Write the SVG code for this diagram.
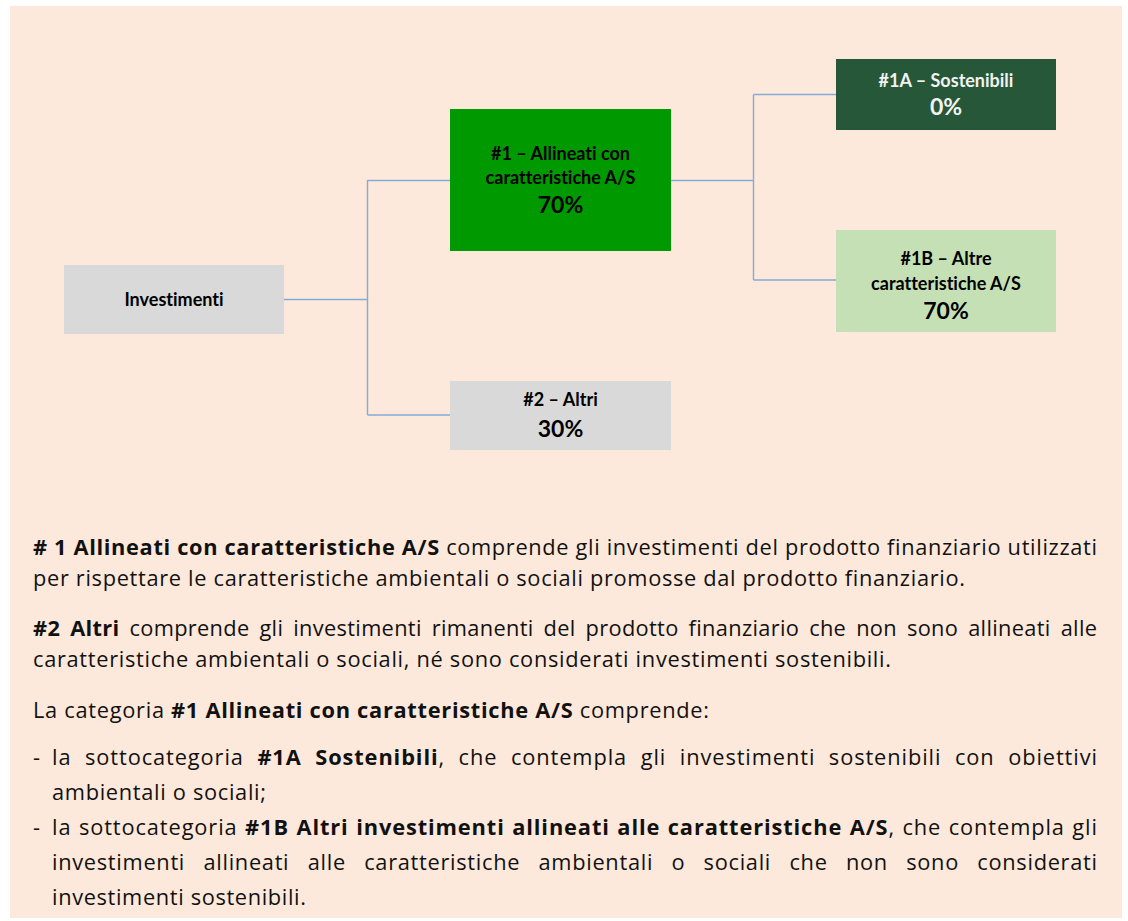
<svg xmlns="http://www.w3.org/2000/svg" width="1128" height="921" viewBox="0 0 1128 921">
<style>
text{font-variant-ligatures:none;font-feature-settings:"liga" 0,"clig" 0}
.bx{font-family:Lato,"Liberation Sans",sans-serif;font-weight:bold;font-size:18px;fill:#000;text-anchor:middle}
.pc{font-family:Lato,"Liberation Sans",sans-serif;font-weight:bold;font-size:23px;fill:#000;text-anchor:middle}
.w{fill:#F2F2F2}
.tx{font-family:"Open Sans","Liberation Sans",sans-serif;font-size:21.8px;fill:#111}
.b{font-weight:bold}
.cn{fill:none;stroke:#84AAD8;stroke-width:1.4}
</style>
<rect x="0" y="0" width="1128" height="921" fill="#FFFFFF"/>
<rect x="10" y="6" width="1112" height="912" fill="#FDE9DB"/>
<g id="connectors">
<path class="cn" d="M284 299.5H367.5M367.5 180V415M367.5 180.5H450M367.5 415H450"/>
<path class="cn" d="M671 180.5H753.5M753.5 94.5V280M753.5 94.5H836M753.5 280H836"/>
</g>
<g id="investimenti">
<rect x="64" y="265" width="220" height="69" fill="#D9D9D9"/>
<text class="bx" x="174" y="306">Investimenti</text>
</g>
<g id="n1">
<rect x="450" y="109" width="221" height="142" fill="#009900"/>
<text class="bx" x="560.5" y="160">#1 – Allineati con</text>
<text class="bx" x="560.5" y="184">caratteristiche A/S</text>
<text class="pc" x="560.5" y="213">70%</text>
</g>
<g id="n2">
<rect x="450" y="381" width="221" height="69" fill="#D9D9D9"/>
<text class="bx" x="560.5" y="406">#2 – Altri</text>
<text class="pc" x="560.5" y="437">30%</text>
</g>
<g id="n1a">
<rect x="836" y="59" width="220" height="71" fill="#265739"/>
<text class="bx w" x="946" y="87">#1A – Sostenibili</text>
<text class="pc w" x="946" y="115">0%</text>
</g>
<g id="n1b">
<rect x="836" y="230" width="220" height="102" fill="#C5E0B4"/>
<text class="bx" x="946" y="265">#1B – Altre</text>
<text class="bx" x="946" y="290">caratteristiche A/S</text>
<text class="pc" x="946" y="319">70%</text>
</g>
<g id="legend">
<text class="tx" x="33" y="555" textLength="1064" lengthAdjust="spacing"><tspan class="b"># 1 Allineati con caratteristiche A/S</tspan> comprende gli investimenti del prodotto finanziario utilizzati</text>
<text class="tx" x="33" y="586" textLength="932" lengthAdjust="spacing">per rispettare le caratteristiche ambientali o sociali promosse dal prodotto finanziario.</text>
<text class="tx" x="33" y="636" textLength="1064" lengthAdjust="spacing" word-spacing="4"><tspan class="b">#2 Altri</tspan> comprende gli investimenti rimanenti del prodotto finanziario che non sono allineati alle</text>
<text class="tx" x="33" y="667" textLength="858" lengthAdjust="spacing">caratteristiche ambientali o sociali, né sono considerati investimenti sostenibili.</text>
<text class="tx" x="33" y="718" textLength="676" lengthAdjust="spacing">La categoria <tspan class="b">#1 Allineati con caratteristiche A/S</tspan> comprende:</text>
<text class="tx" x="33" y="765">-</text>
<text class="tx" x="52" y="765" textLength="1045" lengthAdjust="spacing" word-spacing="7"><tspan>la sottocategoria </tspan><tspan class="b">#1A Sostenibili</tspan><tspan>, che contempla gli investimenti sostenibili con obiettivi</tspan></text>
<text class="tx" x="52" y="800" textLength="214" lengthAdjust="spacing">ambientali o sociali;</text>
<text class="tx" x="33" y="835">-</text>
<text class="tx" x="52" y="835" textLength="1045" lengthAdjust="spacing" word-spacing="1"><tspan>la sottocategoria </tspan><tspan class="b">#1B Altri investimenti allineati alle caratteristiche A/S</tspan><tspan>, che contempla gli</tspan></text>
<text class="tx" x="52" y="870" textLength="1045" lengthAdjust="spacing" word-spacing="12">investimenti allineati alle caratteristiche ambientali o sociali che non sono considerati</text>
<text class="tx" x="52" y="905" textLength="254" lengthAdjust="spacing">investimenti sostenibili.</text>
</g>
</svg>
